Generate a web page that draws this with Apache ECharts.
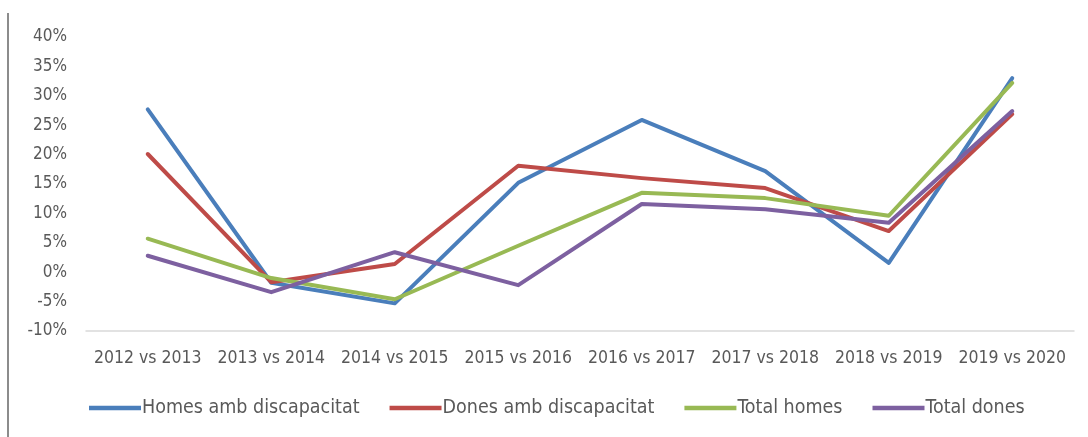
<!DOCTYPE html>
<html>
<head>
<meta charset="utf-8">
<script src="https://cdn.jsdelivr.net/npm/echarts@6/dist/echarts.min.js"></script>
<style>
  html, body { margin: 0; padding: 0; background: #fff; }
  #chart { width: 1088px; height: 437px; }
</style>
</head>
<body>
<div id="chart"></div>
<script>
// Year-over-year change (%) by group
const categories = ['2012 vs 2013', '2013 vs 2014', '2014 vs 2015', '2015 vs 2016',
                    '2016 vs 2017', '2017 vs 2018', '2018 vs 2019', '2019 vs 2020'];
const homesDisc = [27.7, -1.8, -5.3, 15.2, 25.9, 17.2, 1.6, 33.0];
const donesDisc = [20.1, -1.7, 1.4, 18.1, 16.0, 14.3, 7.0, 26.9];
const totalHomes = [5.7, -1.0, -4.6, 4.5, 13.5, 12.6, 9.6, 32.2];
const totalDones = [2.8, -3.4, 3.4, -2.2, 11.6, 10.7, 8.4, 27.4];
const seriesNames = ['Homes amb discapacitat', 'Dones amb discapacitat', 'Total homes', 'Total dones'];
const colors = ['#4A7EBB', '#BE4B48', '#98B954', '#7D60A0'];

const FONT = '"Liberation Sans Narrow", "DejaVu Sans Condensed", sans-serif';

const chart = echarts.init(document.getElementById('chart'), null, { renderer: 'canvas' });

const mkLine = (name, data, i) => ({
  name, type: 'line', data,
  symbol: 'none',
  lineStyle: { width: 4, color: colors[i], cap: 'round', join: 'round' },
  itemStyle: { color: colors[i] },
  animation: false
});

chart.setOption({
  backgroundColor: '#fff',
  textStyle: { fontFamily: FONT },
  grid: { left: 86, right: 14, top: 37, bottom: 106 },
  xAxis: {
    type: 'category',
    data: categories,
    boundaryGap: true,
    axisLine: { show: true, onZero: false, lineStyle: { color: '#D9D9D9', width: 1.5 } },
    axisTick: { show: false },
    axisLabel: { color: '#595959', fontSize: 17.5, margin: 18, interval: 0, fontFamily: FONT }
  },
  yAxis: {
    type: 'value',
    min: -10, max: 40, interval: 5,
    axisLine: { show: false },
    axisTick: { show: false },
    splitLine: { show: false },
    axisLabel: { color: '#595959', fontSize: 17, margin: 19, formatter: v => v + '%', fontFamily: FONT }
  },
  legend: {
    data: seriesNames,
    bottom: 19, left: 89,
    padding: 0,
    icon: 'rect',
    itemWidth: 52, itemHeight: 4.5,
    itemGap: 30,
    textStyle: { color: '#595959', fontSize: 19.5, fontFamily: FONT, padding: [0, 0, 0, -4] }
  },
  graphic: [{
    type: 'line',
    shape: { x1: 8, y1: 13, x2: 8, y2: 437 },
    style: { stroke: '#8C8C8C', lineWidth: 2 }
  }],
  series: [
    mkLine(seriesNames[0], homesDisc, 0),
    mkLine(seriesNames[1], donesDisc, 1),
    mkLine(seriesNames[2], totalHomes, 2),
    mkLine(seriesNames[3], totalDones, 3)
  ]
});
</script>
</body>
</html>
